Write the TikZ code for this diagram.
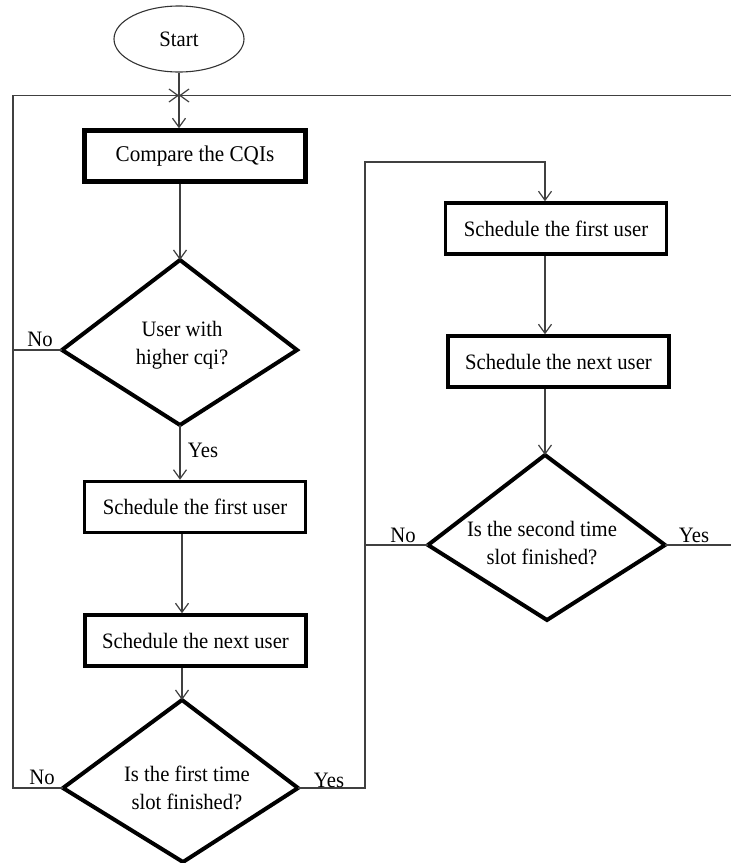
\documentclass[tikz,border=0pt]{standalone}
\usepackage{fontspec}
\setmainfont{Liberation Serif}[FakeStretch=0.94]
\usetikzlibrary{arrows.meta,shapes.geometric}
\begin{document}
\begin{tikzpicture}[x=1pt,y=-1pt,
  every node/.style={font=\fontsize{22}{28.5}\selectfont, inner sep=1pt},
  conn/.style={draw=black!75, line width=1.2pt},
  arr/.style={conn, -{Straight Barb[length=9pt,width=13pt,line width=1.2pt]}},
  procbox/.style={draw=black, line width=3.5pt, minimum width=221pt, minimum height=51pt, inner sep=0pt},
  startbox/.style={draw=black!80, ellipse, line width=1.1pt, minimum width=130pt, minimum height=66pt, inner sep=0pt},
  decision/.style={draw=black, line width=4pt, line join=miter},
  lbl/.style={inner sep=0pt}]
\useasboundingbox (0,0) rectangle (731,863);

% start and process boxes
\node[startbox] (start) at (179,39) {Start};
\node[procbox, line width=4.5pt, font=\fontsize{22.5}{28}\selectfont] (cmp) at (195,156) {Compare the CQIs};
\node[procbox] (l1) at (195,507) {Schedule the first user};
\node[procbox] (l2) at (195.5,640.5) {Schedule the next user};
\node[procbox] (r1) at (556,228.5) {Schedule the first user};
\node[procbox] (r2) at (558.5,361.5) {Schedule the next user};

% decision 1
\coordinate (d1n) at (180,260); \coordinate (d1e) at (297,350);
\coordinate (d1s) at (180,425); \coordinate (d1w) at (62,350);
\draw[decision] (d1n) -- (d1e) -- (d1s) -- (d1w) -- cycle;
\node[align=center] (d1) at (182,345) {User with\\higher cqi?};

% decision 2
\coordinate (d2n) at (182,700); \coordinate (d2e) at (298,788);
\coordinate (d2s) at (183,862); \coordinate (d2w) at (63,788);
\draw[decision] (d2n) -- (d2e) -- (d2s) -- (d2w) -- cycle;
\node[align=center] (d2) at (187,788) {Is the first time\\slot finished?};

% decision 3
\coordinate (d3n) at (545,455); \coordinate (d3e) at (665,545);
\coordinate (d3s) at (547,620); \coordinate (d3w) at (428,545);
\draw[decision] (d3n) -- (d3e) -- (d3s) -- (d3w) -- cycle;
\node[align=center] (d3) at (542,543) {Is the second time\\slot finished?};

% routing coordinates
\coordinate (j) at (179,95.5);
\coordinate (L) at (13,95.5);
\coordinate (R) at (365,162);
\coordinate (E) at (740,95.5);

% main spine
\draw[arr] (start.south) -- (start.south |- cmp.north);
\draw[arr] (cmp.south -| d1n) -- (d1n);
\draw[arr] (d1s) -- (l1.north -| d1s);
\draw[arr] (l1.south -| d2n) -- (l2.north -| d2n);
\draw[arr] (l2.south -| d2n) -- (d2n);

% right spine
\draw[arr] (r1.south -| d3n) -- (r2.north -| d3n);
\draw[arr] (r2.south -| d3n) -- (d3n);

% loops
\draw[arr] (d2w) -| (L) -- (j);
\draw[conn] (d1w) -- (d1w -| L);
\draw[arr] (d2e) -| (R) -- (R -| d3n) -- (r1.north -| d3n);
\draw[conn] (d3w) -- (d3w -| R);
\draw[arr] (d3e) -| (E) -- (j);

% labels
\node[lbl] (no1) at (40,339) {No};
\node[lbl] (yes1) at (203,450) {Yes};
\node[lbl] (no2) at (42,777) {No};
\node[lbl] (yes2) at (329,780) {Yes};
\node[lbl] (no3) at (403,535) {No};
\node[lbl] (yes3) at (694,535) {Yes};
\end{tikzpicture}
\end{document}
